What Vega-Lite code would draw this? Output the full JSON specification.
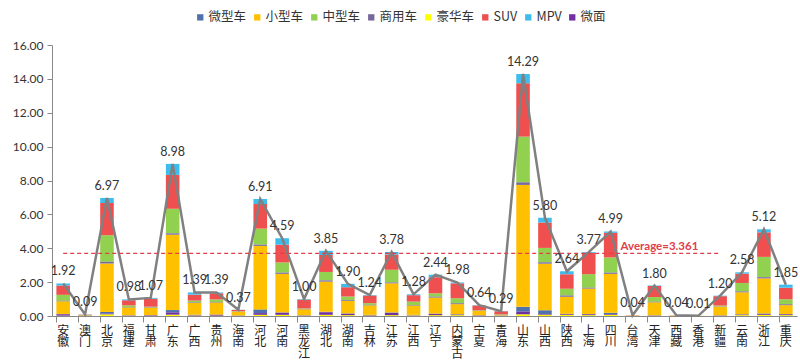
{
  "$schema": "https://vega.github.io/schema/vega-lite/v6.json",
  "width": 745,
  "height": 271,
  "autosize": {"type": "none"},
  "padding": {"left": 52, "top": 45, "right": 3, "bottom": 47},
  "background": "white",
  "config": {"view": {"stroke": null}, "font": "Lato", "axisY": {"labelOverlap": false}},
  "data": {"values": [
    {"p": "安徽", "微型车": 0.02, "小型车": 0.75, "中型车": 0.35, "商用车": 0.03, "豪华车": 0.02, "SUV": 0.55, "MPV": 0.12, "微面": 0.08, "total": 1.92},
    {"p": "澳门", "微型车": 0.03, "小型车": 0.03, "中型车": 0, "商用车": 0, "豪华车": 0, "SUV": 0.02, "MPV": 0.01, "微面": 0, "total": 0.09},
    {"p": "北京", "微型车": 0.1, "小型车": 2.86, "中型车": 1.57, "商用车": 0.1, "豪华车": 0.1, "SUV": 1.9, "MPV": 0.3, "微面": 0.04, "total": 6.97},
    {"p": "福建", "微型车": 0.01, "小型车": 0.46, "中型车": 0.1, "商用车": 0.02, "豪华车": 0.02, "SUV": 0.3, "MPV": 0.05, "微面": 0.02, "total": 0.98},
    {"p": "甘肃", "微型车": 0.01, "小型车": 0.42, "中型车": 0.05, "商用车": 0.02, "豪华车": 0.02, "SUV": 0.47, "MPV": 0.05, "微面": 0.03, "total": 1.07},
    {"p": "广东", "微型车": 0.14, "小型车": 4.45, "中型车": 1.45, "商用车": 0.08, "豪华车": 0.08, "SUV": 2.0, "MPV": 0.65, "微面": 0.13, "total": 8.98},
    {"p": "广西", "微型车": 0.02, "小型车": 0.7, "中型车": 0.1, "商用车": 0.03, "豪华车": 0.03, "SUV": 0.35, "MPV": 0.13, "微面": 0.03, "total": 1.39},
    {"p": "贵州", "微型车": 0.01, "小型车": 0.72, "中型车": 0.15, "商用车": 0.03, "豪华车": 0.02, "SUV": 0.36, "MPV": 0.05, "微面": 0.05, "total": 1.39},
    {"p": "海南", "微型车": 0.01, "小型车": 0.23, "中型车": 0.02, "商用车": 0.01, "豪华车": 0.01, "SUV": 0.07, "MPV": 0.01, "微面": 0.01, "total": 0.37},
    {"p": "河北", "微型车": 0.22, "小型车": 3.75, "中型车": 0.95, "商用车": 0.07, "豪华车": 0.07, "SUV": 1.45, "MPV": 0.3, "微面": 0.1, "total": 6.91},
    {"p": "河南", "微型车": 0.02, "小型车": 2.28, "中型车": 0.6, "商用车": 0.07, "豪华车": 0.07, "SUV": 1.05, "MPV": 0.38, "微面": 0.12, "total": 4.59},
    {"p": "黑龙江", "微型车": 0.01, "小型车": 0.35, "中型车": 0.03, "商用车": 0.02, "豪华车": 0.02, "SUV": 0.52, "MPV": 0.03, "微面": 0.02, "total": 1.0},
    {"p": "湖北", "微型车": 0.03, "小型车": 1.78, "中型车": 0.5, "商用车": 0.07, "豪华车": 0.07, "SUV": 1.0, "MPV": 0.25, "微面": 0.15, "total": 3.85},
    {"p": "湖南", "微型车": 0.02, "小型车": 0.75, "中型车": 0.2, "商用车": 0.05, "豪华车": 0.05, "SUV": 0.55, "MPV": 0.2, "微面": 0.08, "total": 1.9},
    {"p": "吉林", "微型车": 0.01, "小型车": 0.56, "中型车": 0.1, "商用车": 0.03, "豪华车": 0.03, "SUV": 0.45, "MPV": 0.03, "微面": 0.03, "total": 1.24},
    {"p": "江苏", "微型车": 0.03, "小型车": 1.72, "中型车": 0.75, "商用车": 0.05, "豪华车": 0.05, "SUV": 0.9, "MPV": 0.15, "微面": 0.13, "total": 3.78},
    {"p": "江西", "微型车": 0.02, "小型车": 0.55, "中型车": 0.2, "商用车": 0.03, "豪华车": 0.03, "SUV": 0.38, "MPV": 0.05, "微面": 0.02, "total": 1.28},
    {"p": "辽宁", "微型车": 0.02, "小型车": 0.95, "中型车": 0.2, "商用车": 0.05, "豪华车": 0.05, "SUV": 0.95, "MPV": 0.15, "微面": 0.07, "total": 2.44},
    {"p": "内蒙古", "微型车": 0.02, "小型车": 0.6, "中型车": 0.3, "商用车": 0.05, "豪华车": 0.05, "SUV": 0.88, "MPV": 0.05, "微面": 0.03, "total": 1.98},
    {"p": "宁夏", "微型车": 0.01, "小型车": 0.26, "中型车": 0.03, "商用车": 0.01, "豪华车": 0.01, "SUV": 0.28, "MPV": 0.02, "微面": 0.02, "total": 0.64},
    {"p": "青海", "微型车": 0.01, "小型车": 0.05, "中型车": 0.01, "商用车": 0.02, "豪华车": 0.01, "SUV": 0.17, "MPV": 0.01, "微面": 0.01, "total": 0.29},
    {"p": "山东", "微型车": 0.28, "小型车": 7.2, "中型车": 2.7, "商用车": 0.15, "豪华车": 0.1, "SUV": 3.15, "MPV": 0.55, "微面": 0.16, "total": 14.29},
    {"p": "山西", "微型车": 0.22, "小型车": 2.75, "中型车": 0.85, "商用车": 0.08, "豪华车": 0.08, "SUV": 1.5, "MPV": 0.28, "微面": 0.04, "total": 5.8},
    {"p": "陕西", "微型车": 0.02, "小型车": 1.0, "中型车": 0.4, "商用车": 0.07, "豪华车": 0.07, "SUV": 0.85, "MPV": 0.18, "微面": 0.05, "total": 2.64},
    {"p": "上海", "微型车": 0.02, "小型车": 1.5, "中型车": 0.8, "商用车": 0.05, "豪华车": 0.05, "SUV": 1.25, "MPV": 0.05, "微面": 0.05, "total": 3.77},
    {"p": "四川", "微型车": 0.08, "小型车": 2.3, "中型车": 0.9, "商用车": 0.07, "豪华车": 0.07, "SUV": 1.45, "MPV": 0.08, "微面": 0.04, "total": 4.99},
    {"p": "台湾", "微型车": 0.01, "小型车": 0.02, "中型车": 0, "商用车": 0, "豪华车": 0, "SUV": 0.01, "MPV": 0, "微面": 0, "total": 0.04},
    {"p": "天津", "微型车": 0.01, "小型车": 0.76, "中型车": 0.28, "商用车": 0.03, "豪华车": 0.02, "SUV": 0.65, "MPV": 0.03, "微面": 0.02, "total": 1.8},
    {"p": "西藏", "微型车": 0, "小型车": 0.02, "中型车": 0.01, "商用车": 0, "豪华车": 0, "SUV": 0.01, "MPV": 0, "微面": 0, "total": 0.04},
    {"p": "香港", "微型车": 0, "小型车": 0.01, "中型车": 0, "商用车": 0, "豪华车": 0, "SUV": 0, "MPV": 0, "微面": 0, "total": 0.01},
    {"p": "新疆", "微型车": 0.01, "小型车": 0.5, "中型车": 0.04, "商用车": 0.02, "豪华车": 0.03, "SUV": 0.55, "MPV": 0.03, "微面": 0.02, "total": 1.2},
    {"p": "云南", "微型车": 0.02, "小型车": 1.3, "中型车": 0.5, "商用车": 0.05, "豪华车": 0.05, "SUV": 0.55, "MPV": 0.08, "微面": 0.03, "total": 2.58},
    {"p": "浙江", "微型车": 0.03, "小型车": 2.07, "中型车": 1.2, "商用车": 0.07, "豪华车": 0.07, "SUV": 1.45, "MPV": 0.18, "微面": 0.05, "total": 5.12},
    {"p": "重庆", "微型车": 0.02, "小型车": 0.52, "中型车": 0.3, "商用车": 0.05, "豪华车": 0.05, "SUV": 0.68, "MPV": 0.18, "微面": 0.05, "total": 1.85}
  ]},
  "encoding": {
    "x": {
      "field": "p", "type": "nominal", "sort": null,
      "scale": {"paddingInner": 0.38, "paddingOuter": 0.2},
      "axis": {
        "title": null, "labelAngle": 0, "labelExpr": "split(datum.label, '')",
        "labelFont": "Noto Sans CJK SC", "labelFontSize": 12, "labelLineHeight": 11.5,
        "labelColor": "#222", "labelBaseline": "top", "labelPadding": 3,
        "bandPosition": 0, "tickColor": "#888", "tickSize": 6, "domainColor": "#888", "labelOverlap": false
      }
    }
  },
  "resolve": {"axis": {"y": "shared"}},
  "layer": [
    {
      "transform": [{"fold": ["微型车", "小型车", "中型车", "商用车", "豪华车", "SUV", "MPV", "微面"], "as": ["type", "v"]}],
      "mark": {"type": "bar"},
      "encoding": {
        "y": {
          "field": "v", "type": "quantitative", "stack": "zero",
          "scale": {"domain": [0, 16], "nice": false},
          "axis": {"title": null, "values": [0, 2, 4, 6, 8, 10, 12, 14, 16], "format": ".2f", "grid": false, "labelOverlap": false,
                   "labelFontSize": 12, "labelColor": "#333", "labelPadding": 4, "tickColor": "#888", "tickSize": 5, "domainColor": "#888"}
        },
        "color": {
          "field": "type", "type": "nominal",
          "sort": ["微型车", "小型车", "中型车", "商用车", "豪华车", "SUV", "MPV", "微面"],
          "scale": {
            "domain": ["微型车", "小型车", "中型车", "商用车", "豪华车", "SUV", "MPV", "微面"],
            "range": ["#4f72ad", "#ffc000", "#92d050", "#76689a", "#ffff00", "#ef4f4f", "#3cbdee", "#7030a0"]
          },
          "legend": {
            "title": null, "orient": "none", "direction": "horizontal", "legendX": 142, "legendY": -34,
            "symbolType": "square", "symbolSize": 40, "symbolStrokeWidth": 0,
            "labelFont": "Noto Sans CJK SC", "labelFontSize": 12.5, "labelColor": "#333",
            "columnPadding": 4, "labelOffset": 2
          }
        }
      }
    },
    {
      "mark": {"type": "line", "color": "#808080", "strokeWidth": 2.5},
      "encoding": {"y": {"field": "total", "type": "quantitative",
        "axis": {"title": null, "values": [0, 2, 4, 6, 8, 10, 12, 14, 16], "format": ".2f", "grid": false, "labelOverlap": false,
                 "labelFontSize": 12, "labelColor": "#333", "labelPadding": 4, "tickColor": "#888", "tickSize": 5, "domainColor": "#888"}}}
    },
    {
      "mark": {"type": "text", "baseline": "bottom", "dy": -5, "fontSize": 12.5, "color": "#333"},
      "encoding": {
        "y": {"field": "total", "type": "quantitative",
          "axis": {"title": null, "values": [0, 2, 4, 6, 8, 10, 12, 14, 16], "format": ".2f", "grid": false, "labelOverlap": false,
                   "labelFontSize": 12, "labelColor": "#333", "labelPadding": 4, "tickColor": "#888", "tickSize": 5, "domainColor": "#888"}},
        "text": {"field": "total", "type": "quantitative", "format": ".2f"}
      }
    },
    {
      "data": {"values": [{"a": 3.7, "from": "安徽", "to": "新疆", "label": "Average=3.361", "at": "天津"}]},
      "layer": [
        {
          "mark": {"type": "rule", "color": "#e0404c", "strokeDash": [4, 3], "strokeWidth": 1.3},
          "encoding": {
            "x": {"field": "from", "type": "nominal", "sort": null},
            "x2": {"field": "to"},
            "y": {"field": "a", "type": "quantitative",
              "axis": {"title": null, "values": [0, 2, 4, 6, 8, 10, 12, 14, 16], "format": ".2f", "grid": false, "labelOverlap": false,
                       "labelFontSize": 12, "labelColor": "#333", "labelPadding": 4, "tickColor": "#888", "tickSize": 5, "domainColor": "#888"}}
          }
        },
        {
          "mark": {"type": "text", "color": "#e0404c", "fontWeight": "bold", "fontSize": 11.5, "baseline": "bottom", "dy": -1, "dx": 5},
          "encoding": {
            "x": {"field": "at", "type": "nominal", "sort": null},
            "y": {"field": "a", "type": "quantitative",
              "axis": {"title": null, "values": [0, 2, 4, 6, 8, 10, 12, 14, 16], "format": ".2f", "grid": false, "labelOverlap": false,
                       "labelFontSize": 12, "labelColor": "#333", "labelPadding": 4, "tickColor": "#888", "tickSize": 5, "domainColor": "#888"}},
            "text": {"field": "label"}
          }
        }
      ]
    }
  ]
}
